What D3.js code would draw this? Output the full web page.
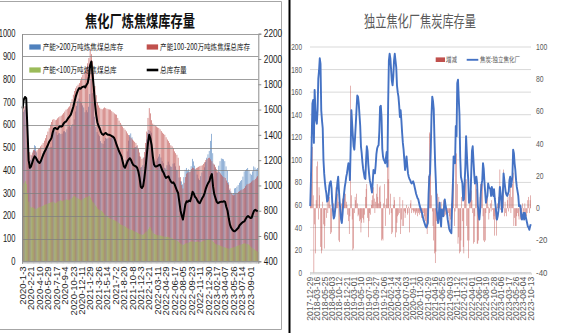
<!DOCTYPE html>
<html>
<head>
<meta charset="utf-8">
<script src="https://cdn.jsdelivr.net/npm/d3@7/dist/d3.min.js"></script>
<style>
  html, body { margin: 0; padding: 0; background: #fff; }
  svg { display: block; }
</style>
</head>
<body>
<svg id="chart" width="562" height="333"></svg>
<script>
// ---------- Coking-plant coking-coal inventory (weekly, 10k t) ----------
const coalTicks = ["2020-1-3","2020-2-21","2020-4-10","2020-5-29","2020-7-17","2020-9-4","2020-10-23","2020-12-11","2021-1-29","2021-3-26","2021-5-14","2021-7-2","2021-8-20","2021-10-8","2021-12-3","2022-1-21","2022-03-11","2022-04-29","2022-06-17","2022-08-05","2022-09-23","2022-11-11","2022-12-30","2023-02-17","2023-04-07","2023-05-26","2023-07-14","2023-09-01"];

// capacity > 2 Mt
const coalBig = [602,657,666,680,530,418,420,446,464,485,510,506,479,455,441,445,460,475,484,489,493,495,504,502,503,536,567,580,568,555,562,563,559,561,571,572,567,580,591,594,589,598,603,624,658,683,704,715,702,695,685,676,655,664,655,679,735,800,739,695,635,590,568,557,550,528,519,516,529,542,539,540,543,541,545,548,545,526,501,496,486,480,470,440,410,410,446,483,530,555,562,545,497,500,502,505,493,462,412,414,422,458,492,535,564,577,572,565,500,445,436,442,452,460,471,456,440,431,411,408,422,438,425,417,415,429,431,417,402,399,368,352,351,338,370,402,410,398,404,394,418,450,439,420,404,381,364,357,374,390,397,413,436,455,470,485,529,560,475,426,409,391,390,420,440,452,450,448,440,417,398,347,313,307,297,300,320,322,328,335,345,352,357,372,395,400,405,410,400,385,380,395,417,412,405,410];
// capacity 1-2 Mt
const coalMid = [673,678,682,670,620,520,480,468,478,490,488,484,488,494,498,505,512,520,530,541,555,570,585,600,612,622,625,620,622,628,633,637,640,645,651,658,666,670,676,681,695,712,732,748,760,769,776,783,795,808,820,830,840,849,870,893,935,910,879,830,770,730,700,685,675,670,668,672,676,673,670,668,667,666,660,655,650,646,644,630,618,608,600,592,585,578,571,562,555,548,541,535,530,525,520,510,495,478,460,450,455,480,520,570,630,673,650,620,605,600,596,592,588,586,580,572,565,560,556,545,535,528,520,510,505,498,483,475,468,455,420,370,335,320,345,370,385,390,392,395,405,412,410,405,410,412,415,418,420,422,428,435,445,450,454,455,448,440,430,424,415,405,398,392,386,380,374,370,366,355,345,337,320,300,293,290,293,296,300,305,308,312,315,318,322,330,337,340,342,345,350,355,357,362,368,374];
// capacity < 1 Mt
const coalSmall = [335,345,352,340,300,262,240,236,238,235,232,230,233,236,238,240,243,245,248,250,252,255,256,258,260,262,258,255,258,262,265,268,266,264,268,270,272,270,268,272,276,280,285,288,282,278,275,272,268,272,275,278,280,282,285,288,280,270,262,255,245,240,232,228,225,222,218,212,205,200,196,192,190,188,185,182,180,178,175,170,166,162,160,158,155,152,148,145,143,140,138,136,133,130,128,125,122,120,118,116,118,122,128,135,142,150,148,135,125,120,118,116,115,114,113,112,110,109,108,107,108,106,105,103,100,98,96,93,90,86,82,78,74,72,75,78,80,82,84,86,87,88,86,85,86,87,86,85,86,88,90,92,94,95,96,95,93,90,85,80,76,74,72,70,68,66,64,62,60,58,57,56,57,58,60,62,64,66,68,70,72,74,76,78,79,78,76,74,70,65,60,56,52,48,45,42];
// total inventory (right axis)
const coalTotal = [1610,1680,1700,1690,1450,1200,1140,1150,1180,1210,1230,1220,1200,1185,1177,1190,1215,1240,1262,1280,1300,1320,1345,1360,1375,1420,1450,1455,1448,1445,1460,1468,1465,1470,1490,1500,1505,1520,1535,1547,1560,1590,1620,1660,1700,1730,1755,1770,1765,1775,1780,1784,1775,1795,1810,1860,1950,1980,1880,1780,1650,1560,1500,1470,1450,1420,1405,1400,1410,1415,1405,1400,1400,1395,1390,1385,1375,1350,1320,1296,1270,1250,1230,1190,1150,1140,1165,1190,1205,1215,1200,1175,1160,1155,1150,1140,1110,1060,990,980,995,1060,1140,1240,1336,1400,1370,1320,1230,1165,1150,1150,1155,1160,1164,1140,1115,1100,1075,1060,1065,1072,1050,1030,1020,1025,1010,985,960,940,870,800,760,730,790,850,875,870,880,875,910,950,935,910,900,880,865,860,880,900,915,940,975,1000,1020,1035,1070,1090,990,930,900,870,860,865,870,872,870,875,870,830,800,740,690,665,650,640,637,645,655,665,685,695,705,712,716,735,750,758,750,742,745,775,800,808,800,795];

const coalSeries = [
  { name: "产能>200万吨炼焦煤总库存", values: coalBig, color: "#4f81bd" },
  { name: "产能100-200万吨炼焦煤总库存", values: coalMid, color: "#c0504d" },
  { name: "产能<100万吨炼焦煤总库", values: coalSmall, color: "#9bbb59" }
];

// ---------- Independent coking plants: coke inventory (weekly, 10k t) ----------
const cokeTicks = ["2017-12-29","2018-03-16","2018-05-25","2018-08-03","2018-10-12","2018-12-21","2019-03-01","2019-05-10","2019-07-19","2019-09-27","2019-12-06","2020-02-14","2020-04-24","2020-07-03","2020-09-11","2020-11-20","2021-01-29","2021-04-16","2021-06-25","2021-09-03","2021-11-12","2022-01-21","2022-04-01","2022-06-10","2022-08-19","2022-10-28","2023-01-06","2023-03-17","2023-05-26","2023-08-04","2023-10-13"];

const cokeStock = [59,82,118,150,153,115,162,145,135,132,144,172,179,190,185,144,135,128,100,88,80,74,70,63,64,69,77,80,81,75,62,55,48,50,56,65,72,80,85,74,63,55,47,44,52,63,70,76,80,85,88,93,97,96,82,110,144,132,121,112,109,120,132,145,157,156,150,140,130,112,106,98,92,88,84,83,100,112,108,96,88,82,79,75,71,80,91,90,88,95,105,110,112,113,125,147,148,138,110,103,100,99,97,102,107,94,150,188,194,190,180,170,166,174,188,194,188,182,166,160,156,148,138,144,135,124,115,109,100,91,96,103,95,88,85,83,82,80,79,80,81,79,76,73,70,68,66,65,62,59,57,55,53,50,47,45,43,41,40,42,44,70,85,88,110,140,156,152,145,118,95,79,56,50,44,52,62,48,41,56,53,50,58,65,60,56,53,47,43,39,37,36,35,60,76,103,100,97,130,121,168,171,155,140,103,85,82,79,64,65,80,94,121,106,92,82,62,63,65,88,108,112,100,88,79,82,85,79,60,52,47,54,70,78,82,97,92,80,71,62,66,68,79,76,75,74,68,76,72,68,74,66,60,53,47,50,55,65,76,70,62,54,70,88,82,76,71,69,68,70,72,82,85,76,80,85,109,106,97,91,82,76,72,68,59,60,59,50,47,50,53,47,53,50,47,44,41,40,38,41,43];

const cokeChange = [3,22,15,38,8,-40,-10,-28,5,26,29,-7,13,8,-24,-28,-26,4,-10,-25,-11,-1,-6,4,-3,5,7,2,-16,-15,-2,-5,3,-3,6,13,7,9,4,-20,-21,-4,-6,3,6,5,6,9,9,4,2,-4,-8,-16,-5,76,8,-7,-26,-25,-3,7,5,9,3,-5,-4,-8,-7,-15,-9,-6,-7,-9,-4,7,12,15,-6,-18,-8,-3,-4,2,5,8,13,6,-3,4,9,15,7,3,13,14,4,-20,-19,-20,3,15,-11,2,6,32,18,30,-4,9,-3,-16,-15,2,7,5,-18,-15,-9,-5,-4,-3,7,-16,-7,-11,5,-11,-2,-6,-3,2,-4,-3,1,-15,3,5,-3,-1,-2,-3,-2,-4,-3,-2,-5,-3,-2,-4,-3,-6,-2,-4,-3,-5,-7,-8,-11,-16,-12,20,47,46,24,8,-2,-11,-20,-28,-34,-27,-8,9,-4,7,-5,-3,4,-5,-3,5,-2,-5,-4,-3,-4,-7,-3,-5,-11,-7,3,15,18,15,-11,-2,32,34,15,-22,-18,-28,-27,-20,7,-8,-24,-28,7,18,18,-11,-20,-31,-20,4,18,11,5,-3,-22,-21,-5,17,12,-22,-22,-20,-5,7,15,10,15,-5,-20,-21,-20,-3,5,11,1,-7,-3,3,-2,5,-1,-7,-5,-17,-7,-17,1,3,7,13,24,-1,-3,2,13,24,-5,4,-3,-5,5,7,-2,9,15,-3,7,15,22,-11,-6,-11,-11,-5,-3,-5,-7,1,-7,-5,-3,3,-7,-5,3,-3,-5,-3,5,7,-3,5,8];

const svg = d3.select("#chart");
const CJK = "'Noto Sans CJK SC', 'Noto Sans', sans-serif";
const NUM = "'Liberation Sans', Arial, sans-serif";
const plain = d3.format("d");

// ===================== left panel =====================
const L = svg.append("g");

// panel frame
L.append("path")
  .attr("d", "M0,1.5 H281.5 V329.5 H0")
  .attr("fill", "none").attr("stroke", "#a6a6a6").attr("stroke-width", 1);

const lx0 = 22, lx1 = 258.3, ly0 = 261.3, ly1 = 33.7;
const xL = d3.scaleBand().domain(d3.range(coalTotal.length)).range([lx0, lx1]).padding(0);
const yL = d3.scaleLinear().domain([0, 1000]).range([ly0, ly1]);
const yR = d3.scaleLinear().domain([400, 2200]).range([ly0, ly1]);
// series bars overlap by half within each week
const subW = xL.bandwidth() * 0.5;
const subOff = k => xL.bandwidth() * 0.25 * k;

// clustered bars
coalSeries.forEach((s, k) => {
  L.append("g").selectAll("rect").data(s.values).join("rect")
    .attr("x", (d, i) => xL(i) + subOff(k))
    .attr("width", subW)
    .attr("y", d => yL(d))
    .attr("height", d => yL(0) - yL(d))
    .attr("fill", s.color);
});

// horizontal gridlines
L.append("g").selectAll("line").data(yL.ticks(10)).join("line")
  .attr("x1", lx0).attr("x2", lx1)
  .attr("y1", d => Math.round(yL(d)) + 0.5).attr("y2", d => Math.round(yL(d)) + 0.5)
  .attr("stroke", "#7f7f7f").attr("stroke-opacity", 0.75).attr("stroke-width", 1);

// total inventory line
L.append("path")
  .datum(coalTotal)
  .attr("fill", "none").attr("stroke", "#000").attr("stroke-width", 2)
  .attr("stroke-linejoin", "round")
  .attr("d", d3.line().x((d, i) => xL(i) + xL.bandwidth() / 2).y(d => yR(d)));

// narrow numeric labels
function squeeze(sel, perChar) {
  sel.attr("font-family", NUM).attr("font-size", 10).attr("fill", "#1a1a1a")
    .attr("lengthAdjust", "spacingAndGlyphs")
    .attr("textLength", function () { return this.textContent.length * perChar; });
}

// left value axis
const axL = L.append("g").attr("transform", `translate(${lx0},0)`)
  .call(d3.axisLeft(yL).ticks(10).tickFormat(plain).tickSize(0).tickPadding(6.5));
axL.select(".domain").attr("stroke", "#8c8c8c");
squeeze(axL.selectAll("text"), 4.2);

// right value axis
const axR = L.append("g").attr("transform", `translate(${lx1},0)`)
  .call(d3.axisRight(yR).tickValues(d3.range(400, 2201, 200)).tickFormat(plain).tickSize(3).tickPadding(2.5));
axR.select(".domain").attr("stroke", "#8c8c8c");
axR.selectAll("line").attr("stroke", "#8c8c8c");
squeeze(axR.selectAll("text"), 4.6);

// category axis: a tick for every week, a label every seventh week
const axB = L.append("g").attr("transform", `translate(0,${ly0})`)
  .call(d3.axisBottom(xL).tickSize(2.5).tickFormat(""));
axB.select(".domain").attr("stroke", "#8c8c8c");
axB.selectAll("line").attr("stroke", "#a6a6a6").attr("stroke-width", 0.6);

L.append("g").selectAll("text").data(coalTicks).join("text")
  .attr("transform", (d, j) => `translate(${xL(j * 7) + xL.bandwidth() / 2 + 3.3},${ly0 + 5}) rotate(-90)`)
  .attr("text-anchor", "end")
  .attr("font-family", NUM).attr("font-size", 9.6).attr("fill", "#262626")
  .text(d => d);

// title
L.append("text").attr("x", 140).attr("y", 27)
  .attr("text-anchor", "middle")
  .attr("font-family", CJK).attr("font-weight", 700).attr("font-size", 16)
  .attr("textLength", 110).attr("lengthAdjust", "spacingAndGlyphs")
  .attr("fill", "#111")
  .text("焦化厂炼焦煤库存量");

// legend
const legL = [
  { label: coalSeries[0].name, color: coalSeries[0].color, x: 29.3, y: 47, w: 80.6, type: "bar" },
  { label: coalSeries[1].name, color: coalSeries[1].color, x: 146.7, y: 47, w: 90, type: "bar" },
  { label: coalSeries[2].name, color: coalSeries[2].color, x: 29.3, y: 70, w: 74, type: "bar" },
  { label: "总库存量", color: "#000", x: 146.7, y: 70, w: 26.7, type: "line" }
];
const lg = L.append("g").selectAll("g").data(legL).join("g");
lg.filter(d => d.type === "bar").append("rect")
  .attr("x", d => d.x).attr("y", d => d.y - 2.6).attr("width", 11.4).attr("height", 5.2)
  .attr("fill", d => d.color);
lg.filter(d => d.type === "line").append("line")
  .attr("x1", d => d.x).attr("x2", d => d.x + 11.6)
  .attr("y1", d => d.y).attr("y2", d => d.y)
  .attr("stroke", d => d.color).attr("stroke-width", 2.6);
lg.append("text")
  .attr("x", d => d.x + 13.4).attr("y", d => d.y + 3)
  .attr("font-family", CJK).attr("font-size", 8.5).attr("fill", "#1a1a1a")
  .attr("textLength", d => d.w).attr("lengthAdjust", "spacingAndGlyphs")
  .text(d => d.label);

// ===================== right panel =====================
const R = svg.append("g");

// dividing rule between the panels
R.append("line").attr("x1", 289.5).attr("x2", 289.5).attr("y1", 0).attr("y2", 333)
  .attr("stroke", "#000").attr("stroke-width", 2);

const rx0 = 310, rx1 = 531, ry0 = 272.7, ry1 = 47;
const xC = d3.scaleBand().domain(d3.range(cokeStock.length)).range([rx0, rx1]).paddingInner(0.4);
const yCL = d3.scaleLinear().domain([0, 200]).range([ry0, ry1]);
const yCR = d3.scaleLinear().domain([-40, 100]).range([ry0, ry1]);
const cx = i => xC(i) + xC.bandwidth() / 2;

// gridlines
R.append("g").selectAll("line").data(d3.range(0, 201, 20)).join("line")
  .attr("x1", rx0).attr("x2", rx1)
  .attr("y1", d => yCL(d)).attr("y2", d => yCL(d))
  .attr("stroke", "#d9d9d9").attr("stroke-width", d => d === 0 ? 1.6 : 1);

// weekly change bars
R.append("g").selectAll("rect").data(cokeChange).join("rect")
  .attr("x", (d, i) => xC(i))
  .attr("width", xC.bandwidth())
  .attr("y", d => yCR(Math.max(0, d)))
  .attr("height", d => Math.abs(yCR(d) - yCR(0)))
  .attr("fill", "#c0504d");

// inventory line
R.append("path")
  .datum(cokeStock)
  .attr("fill", "none").attr("stroke", "#4472c4").attr("stroke-width", 1.9)
  .attr("stroke-linejoin", "round")
  .attr("d", d3.line().x((d, i) => cx(i)).y(d => yCL(d)));

// bottom ticks (one per week)
const axCB = R.append("g").attr("transform", `translate(0,${ry0})`)
  .call(d3.axisBottom(xC).tickSize(2).tickFormat(""));
axCB.select(".domain").attr("stroke", "#d9d9d9");
axCB.selectAll("line").attr("stroke", "#d9d9d9").attr("stroke-width", 0.5);

// value axes
function greyNum(sel, perChar) {
  sel.attr("font-family", NUM).attr("font-size", 8.4).attr("fill", "#595959")
    .attr("lengthAdjust", "spacingAndGlyphs")
    .attr("textLength", d => String(d).length * perChar);
}
greyNum(R.append("g").selectAll("text").data(d3.range(0, 201, 20)).join("text")
  .attr("x", 302).attr("y", d => yCL(d)).attr("dy", "0.35em")
  .attr("text-anchor", "end")
  .text(d => d), 3.6);
greyNum(R.append("g").selectAll("text").data(d3.range(-40, 101, 20)).join("text")
  .attr("x", 536).attr("y", d => yCR(d)).attr("dy", "0.35em")
  .text(d => d), 3.8);

// date labels every tenth week
R.append("g").selectAll("text").data(cokeTicks).join("text")
  .attr("transform", (d, j) => `translate(${cx(j * 10) + 2.8},${ry0 + 4}) rotate(-90)`)
  .attr("text-anchor", "end")
  .attr("font-family", NUM).attr("font-size", 8.6).attr("fill", "#595959")
  .text(d => d);

// title
R.append("text").attr("x", 420).attr("y", 27)
  .attr("text-anchor", "middle")
  .attr("font-family", CJK).attr("font-size", 15.5)
  .attr("textLength", 112).attr("lengthAdjust", "spacingAndGlyphs")
  .attr("fill", "#595959")
  .text("独立焦化厂焦炭库存量");

// legend
R.append("rect").attr("x", 435.7).attr("y", 57.4).attr("width", 9.3).attr("height", 4.6).attr("fill", "#c0504d");
R.append("text").attr("x", 446).attr("y", 62.3)
  .attr("font-family", CJK).attr("font-size", 7.2).attr("fill", "#595959")
  .attr("textLength", 11).attr("lengthAdjust", "spacingAndGlyphs")
  .text("增减");
R.append("line").attr("x1", 466.7).attr("x2", 478.3).attr("y1", 59.8).attr("y2", 59.8)
  .attr("stroke", "#4472c4").attr("stroke-width", 1.9);
R.append("text").attr("x", 480).attr("y", 62.3)
  .attr("font-family", CJK).attr("font-size", 7.2).attr("fill", "#595959")
  .attr("textLength", 40).attr("lengthAdjust", "spacingAndGlyphs")
  .text("焦炭:独立焦化厂");
</script>
</body>
</html>
